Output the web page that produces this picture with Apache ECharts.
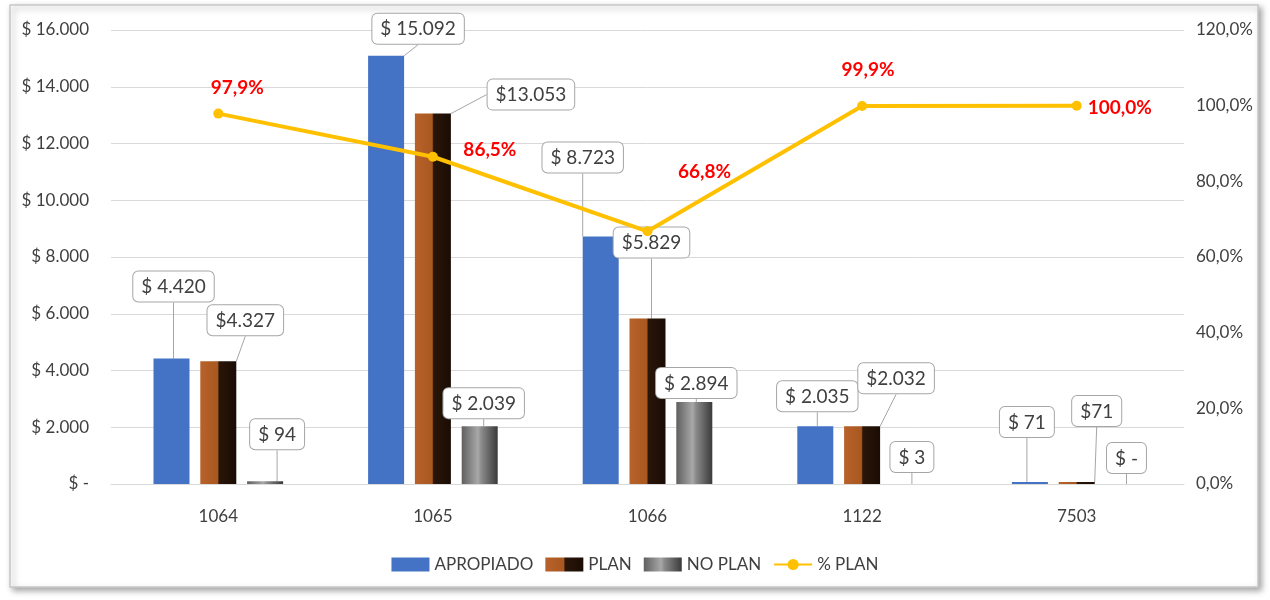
<!DOCTYPE html>
<html>
<head>
<meta charset="utf-8">
<script src="https://cdn.jsdelivr.net/npm/echarts@6/dist/echarts.min.js"></script>
<style>
html,body{margin:0;padding:0;background:#fff;}
#chart{width:1270px;height:600px;}
</style>
</head>
<body>
<div id="chart"></div>
<script>
// ---- data ----
const categories = ['1064', '1065', '1066', '1122', '7503'];
const apropiado = [4420, 15092, 8723, 2035, 71];
const plan = [4327, 13053, 5829, 2032, 71];
const noPlan = [94, 2039, 2894, 3, 0];
const pctPlan = [97.9, 86.5, 66.8, 99.9, 100.0];
const leftTicks = { min: 0, max: 16000, interval: 2000 };
const rightTicks = { min: 0, max: 120, interval: 20 };

// ---- label placement (style only) ----
const apOffsets = [[2,-52],[32,-7],[-18,-59],[2,-10],[-3,-40]];
const plOffsets = [[27,-21],[98,1],[4,-56],[34,-28],[20,-51]];
const npOffsets = [[12,-27],[4,-3],[2,1],[3,-7],[3,-6]];
const pctOffsets = [[19,-26],[57,-7],[57,-59],[6,-36],[43,2]];

const FONT = "Lato, 'Open Sans', sans-serif";

function thousands(v) {
  return String(Math.round(v)).replace(/\B(?=(\d{3})+(?!\d))/g, '.');
}
function money(v, space) {
  if (v === 0) return '$ -';
  return '$' + (space ? ' ' : '') + thousands(v);
}

const calloutLabel = {
  show: true,
  position: 'top',
  fontFamily: FONT,
  fontSize: 19,
  color: '#404040',
  backgroundColor: '#ffffff',
  borderColor: '#a6a6a6',
  borderWidth: 1,
  borderRadius: 5,
  padding: [6, 8, 5, 8]
};
const calloutLine = { show: true, lineStyle: { color: '#a6a6a6', width: 1 } };

function layoutFrom(offsets) {
  return function (params) {
    const o = offsets[params.dataIndex] || [0, 0];
    return { dx: o[0], dy: o[1] };
  };
}

const chart = echarts.init(document.getElementById('chart'), null, { renderer: 'canvas' });

const option = {
  animation: false,
  backgroundColor: '#ffffff',
  textStyle: { fontFamily: FONT },
  graphic: [{
    type: 'rect',
    z: -10,
    shape: { x: 10, y: 5, width: 1248, height: 582 },
    style: {
      fill: '#ffffff', stroke: '#c8c8c8', lineWidth: 1.5,
      shadowBlur: 6, shadowOffsetX: 3, shadowOffsetY: 3, shadowColor: 'rgba(0,0,0,0.35)'
    }
  }],
  grid: { left: 111, right: 86, top: 30, bottom: 116 },
  legend: {
    bottom: 22,
    left: 'center',
    itemWidth: 38,
    itemHeight: 14,
    itemGap: 12,
    textStyle: { fontFamily: FONT, fontSize: 17, color: '#404040' },
    data: [
      { name: 'APROPIADO', icon: 'rect' },
      { name: 'PLAN', icon: 'rect' },
      { name: 'NO PLAN', icon: 'rect' },
      { name: '% PLAN' }
    ]
  },
  xAxis: {
    type: 'category',
    data: categories,
    axisLine: { show: true, lineStyle: { color: '#d9d9d9' } },
    axisTick: { show: false },
    axisLabel: { fontFamily: FONT, fontSize: 17, color: '#404040', margin: 24 }
  },
  yAxis: [{
    type: 'value',
    min: leftTicks.min, max: leftTicks.max, interval: leftTicks.interval,
    axisLine: { show: false },
    axisTick: { show: false },
    splitLine: { lineStyle: { color: '#d9d9d9' } },
    axisLabel: {
      fontFamily: FONT, fontSize: 17, color: '#404040', margin: 22,
      formatter: v => money(v, true)
    }
  }, {
    type: 'value',
    min: rightTicks.min, max: rightTicks.max, interval: rightTicks.interval,
    axisLine: { show: false },
    axisTick: { show: false },
    splitLine: { show: false },
    axisLabel: {
      fontFamily: FONT, fontSize: 17, color: '#404040', margin: 12,
      formatter: v => v.toFixed(1).replace('.', ',') + '%'
    }
  }],
  series: [{
    name: 'APROPIADO',
    type: 'bar',
    barWidth: 36,
    barGap: '30%',
    z: 2,
    data: apropiado,
    itemStyle: { color: '#4472C4' },
    label: Object.assign({}, calloutLabel, { formatter: p => money(p.value, true) }),
    labelLine: calloutLine,
    labelLayout: layoutFrom(apOffsets)
  }, {
    name: 'PLAN',
    type: 'bar',
    barWidth: 36,
    barGap: '30%',
    z: 2,
    data: plan,
    itemStyle: {
      color: new echarts.graphic.LinearGradient(0, 0, 1, 0, [
        { offset: 0, color: '#B8622A' },
        { offset: 0.48, color: '#A85820' },
        { offset: 0.52, color: '#2A1608' },
        { offset: 1, color: '#1A0C04' }
      ])
    },
    label: Object.assign({}, calloutLabel, { formatter: p => money(p.value, false) }),
    labelLine: calloutLine,
    labelLayout: layoutFrom(plOffsets)
  }, {
    name: 'NO PLAN',
    type: 'bar',
    barWidth: 36,
    barGap: '30%',
    z: 2,
    data: noPlan,
    itemStyle: {
      color: new echarts.graphic.LinearGradient(0, 0, 1, 0, [
        { offset: 0, color: '#5f5f5f' },
        { offset: 0.45, color: '#a8a8a8' },
        { offset: 0.55, color: '#8a8a8a' },
        { offset: 1, color: '#3a3a3a' }
      ])
    },
    label: Object.assign({}, calloutLabel, { formatter: p => money(p.value, true) }),
    labelLine: calloutLine,
    labelLayout: layoutFrom(npOffsets)
  }, {
    name: '% PLAN',
    type: 'line',
    yAxisIndex: 1,
    z: 3,
    data: pctPlan.map((v, i) => ({
      value: v,
      label: { offset: pctOffsets[i] }
    })),
    color: '#FFC000',
    lineStyle: { color: '#FFC000', width: 4 },
    symbol: 'circle',
    symbolSize: 10,
    itemStyle: { color: '#FFC000' },
    label: {
      show: true,
      position: 'inside',
      fontFamily: FONT,
      fontSize: 19,
      fontWeight: 'bold',
      color: '#FF0000',
      formatter: p => p.value.toFixed(1).replace('.', ',') + '%'
    }
  }]
};

chart.setOption(option);
</script>
</body>
</html>
